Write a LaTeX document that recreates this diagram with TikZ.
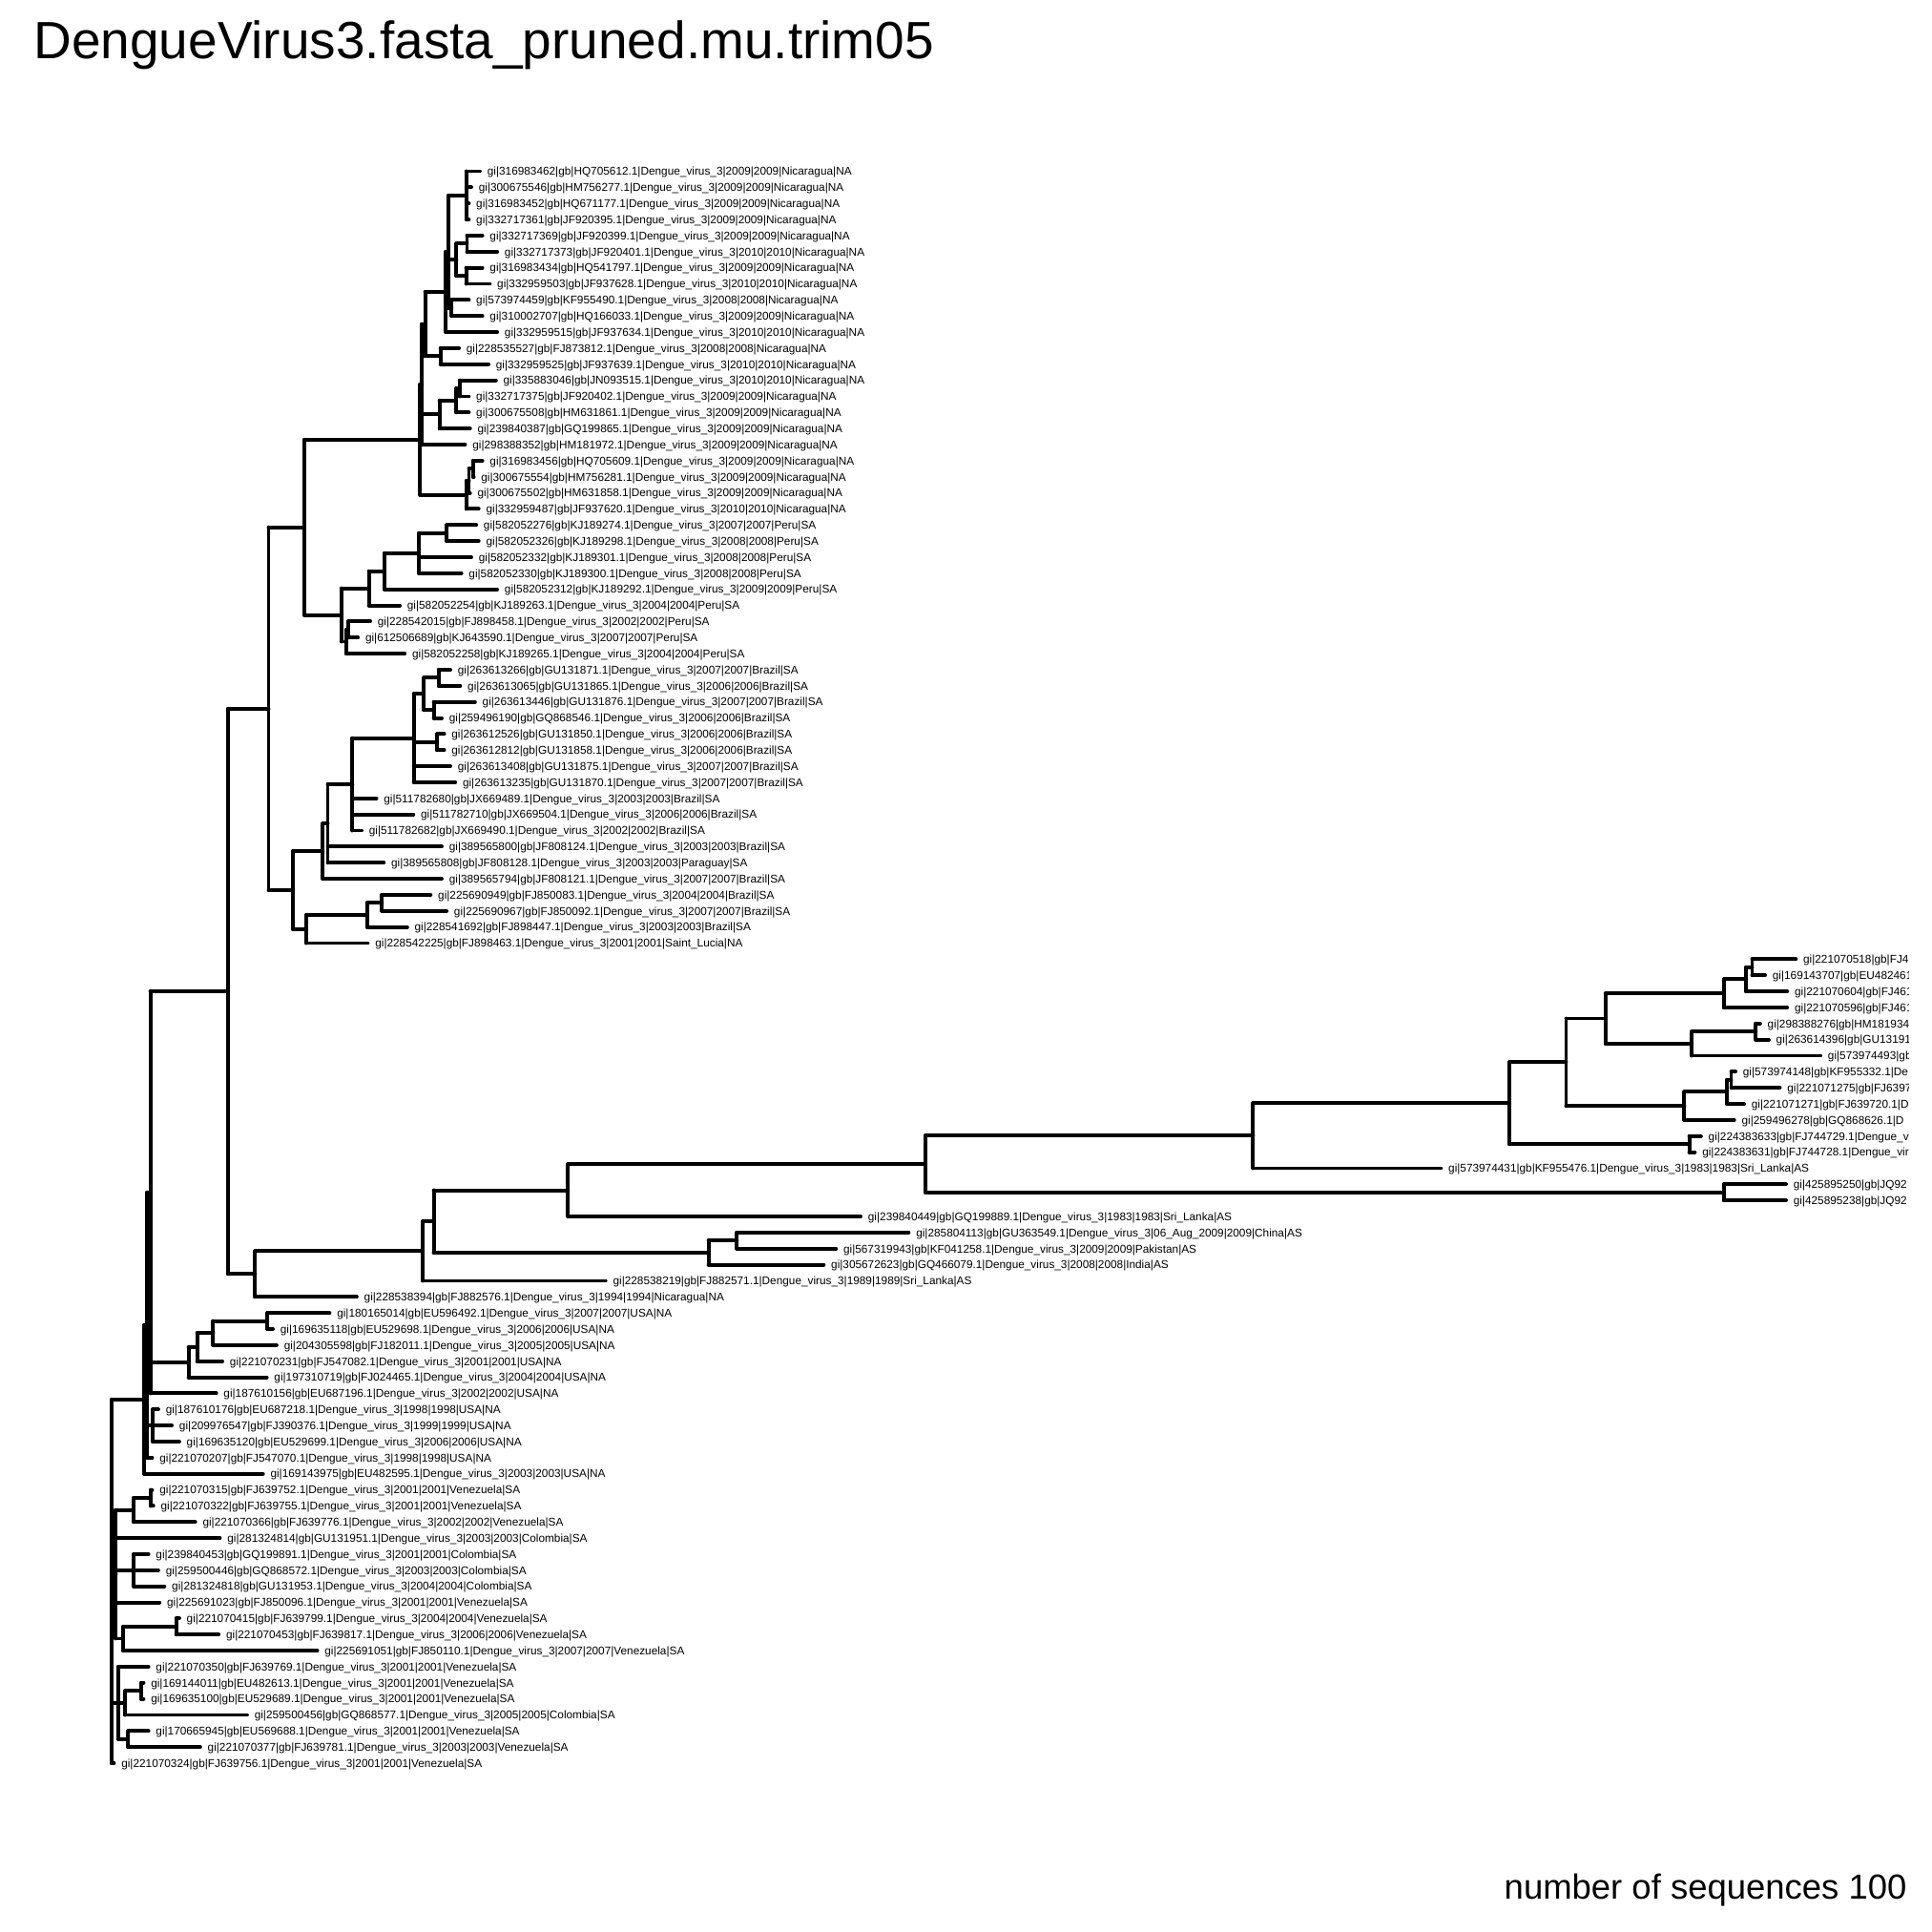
\documentclass[tikz,border=0pt]{standalone}
\usepackage{fontspec}
\setmainfont{Liberation Sans}
\usetikzlibrary{calc}

\tikzset{
  brline/.style={line width=1.1pt, line cap=round},
  leaflab/.style={anchor=base west, inner sep=0pt, xshift=2pt, yshift=-1.2pt, font=\fontsize{3.32}{3.9}\selectfont},
}
\newcommand\dvlab[4]{gi|#1|gb|#2|Dengue\_virus\_3|#3|#3|#4}
% clade: name, x, children from top to bottom
\newcommand\clade[3]{%
  \foreach \kid [count=\kidno] in {#3}{\ifnum\kidno=1 \xdef\firstkid{\kid}\fi\xdef\lastkid{\kid}}
  \coordinate (mid) at ($(\firstkid)!0.5!(\lastkid)$);
  \coordinate (#1) at (#2,0 |- mid);
  \draw[brline] (#1 |- \firstkid) -- (#1 |- \lastkid);
  \foreach \kid in {#3}{\draw[brline] (#1 |- \kid) -- (\kid);}
}

\begin{document}
\begin{tikzpicture}[x=0.012755cm, y=-0.012755cm]
    \useasboundingbox (0,0) rectangle (1568,1568);
    \node[anchor=base west, inner sep=0pt, font=\fontsize{15.45}{18}\selectfont] (title) at (27,48) {DengueVirus3.fasta\_pruned.mu.trim05};

    \begin{scope}
    \clip (0,0) rectangle (1549,1568);
    % tips
    \foreach \tx/\lab [count=\i from 0] in {
      389.5/\dvlab{316983462}{HQ705612.1}{2009}{Nicaragua|NA},
      382.5/\dvlab{300675546}{HM756277.1}{2009}{Nicaragua|NA},
      380.5/\dvlab{316983452}{HQ671177.1}{2009}{Nicaragua|NA},
      380.5/\dvlab{332717361}{JF920395.1}{2009}{Nicaragua|NA},
      391.5/\dvlab{332717369}{JF920399.1}{2009}{Nicaragua|NA},
      403.5/\dvlab{332717373}{JF920401.1}{2010}{Nicaragua|NA},
      391.5/\dvlab{316983434}{HQ541797.1}{2009}{Nicaragua|NA},
      397.5/\dvlab{332959503}{JF937628.1}{2010}{Nicaragua|NA},
      380.5/\dvlab{573974459}{KF955490.1}{2008}{Nicaragua|NA},
      391.5/\dvlab{310002707}{HQ166033.1}{2009}{Nicaragua|NA},
      403.5/\dvlab{332959515}{JF937634.1}{2010}{Nicaragua|NA},
      372.5/\dvlab{228535527}{FJ873812.1}{2008}{Nicaragua|NA},
      396.5/\dvlab{332959525}{JF937639.1}{2010}{Nicaragua|NA},
      402.5/\dvlab{335883046}{JN093515.1}{2010}{Nicaragua|NA},
      380.5/\dvlab{332717375}{JF920402.1}{2009}{Nicaragua|NA},
      380.5/\dvlab{300675508}{HM631861.1}{2009}{Nicaragua|NA},
      381.5/\dvlab{239840387}{GQ199865.1}{2009}{Nicaragua|NA},
      377.5/\dvlab{298388352}{HM181972.1}{2009}{Nicaragua|NA},
      391.5/\dvlab{316983456}{HQ705609.1}{2009}{Nicaragua|NA},
      384.5/\dvlab{300675554}{HM756281.1}{2009}{Nicaragua|NA},
      381.5/\dvlab{300675502}{HM631858.1}{2009}{Nicaragua|NA},
      388.5/\dvlab{332959487}{JF937620.1}{2010}{Nicaragua|NA},
      386.5/\dvlab{582052276}{KJ189274.1}{2007}{Peru|SA},
      388.5/\dvlab{582052326}{KJ189298.1}{2008}{Peru|SA},
      382.5/\dvlab{582052332}{KJ189301.1}{2008}{Peru|SA},
      374.5/\dvlab{582052330}{KJ189300.1}{2008}{Peru|SA},
      403.5/\dvlab{582052312}{KJ189292.1}{2009}{Peru|SA},
      324.5/\dvlab{582052254}{KJ189263.1}{2004}{Peru|SA},
      300.5/\dvlab{228542015}{FJ898458.1}{2002}{Peru|SA},
      290.5/\dvlab{612506689}{KJ643590.1}{2007}{Peru|SA},
      328.5/\dvlab{582052258}{KJ189265.1}{2004}{Peru|SA},
      365.5/\dvlab{263613266}{GU131871.1}{2007}{Brazil|SA},
      373.5/\dvlab{263613065}{GU131865.1}{2006}{Brazil|SA},
      385.5/\dvlab{263613446}{GU131876.1}{2007}{Brazil|SA},
      358.5/\dvlab{259496190}{GQ868546.1}{2006}{Brazil|SA},
      360.5/\dvlab{263612526}{GU131850.1}{2006}{Brazil|SA},
      360.5/\dvlab{263612812}{GU131858.1}{2006}{Brazil|SA},
      365.5/\dvlab{263613408}{GU131875.1}{2007}{Brazil|SA},
      369.5/\dvlab{263613235}{GU131870.1}{2007}{Brazil|SA},
      305.5/\dvlab{511782680}{JX669489.1}{2003}{Brazil|SA},
      335.5/\dvlab{511782710}{JX669504.1}{2006}{Brazil|SA},
      293.5/\dvlab{511782682}{JX669490.1}{2002}{Brazil|SA},
      358.5/\dvlab{389565800}{JF808124.1}{2003}{Brazil|SA},
      311.5/\dvlab{389565808}{JF808128.1}{2003}{Paraguay|SA},
      358.5/\dvlab{389565794}{JF808121.1}{2007}{Brazil|SA},
      349.5/\dvlab{225690949}{FJ850083.1}{2004}{Brazil|SA},
      362.5/\dvlab{225690967}{FJ850092.1}{2007}{Brazil|SA},
      330.5/\dvlab{228541692}{FJ898447.1}{2003}{Brazil|SA},
      298.5/\dvlab{228542225}{FJ898463.1}{2001}{Saint\_Lucia|NA},
      1457.5/gi|221070518|gb|FJ4,
      1432.5/gi|169143707|gb|EU482461,
      1450.5/gi|221070604|gb|FJ461,
      1450.5/gi|221070596|gb|FJ461,
      1428.5/gi|298388276|gb|HM181934.,
      1435.5/gi|263614396|gb|GU13191,
      1477.5/gi|573974493|gb|,
      1408.5/gi|573974148|gb|KF955332.1|De,
      1444.5/gi|221071275|gb|FJ6397,
      1415.5/gi|221071271|gb|FJ639720.1|D,
      1407.5/gi|259496278|gb|GQ868626.1|D,
      1380.5/gi|224383633|gb|FJ744729.1|Dengue\_vi,
      1375.5/gi|224383631|gb|FJ744728.1|Dengue\_vir,
      1169.5/\dvlab{573974431}{KF955476.1}{1983}{Sri\_Lanka|AS},
      1449.5/gi|425895250|gb|JQ92,
      1449.5/gi|425895238|gb|JQ92,
      698.5/\dvlab{239840449}{GQ199889.1}{1983}{Sri\_Lanka|AS},
      737.5/gi|285804113|gb|GU363549.1|Dengue\_virus\_3|06\_Aug\_2009|2009|China|AS,
      678.5/\dvlab{567319943}{KF041258.1}{2009}{Pakistan|AS},
      668.5/\dvlab{305672623}{GQ466079.1}{2008}{India|AS},
      491.5/\dvlab{228538219}{FJ882571.1}{1989}{Sri\_Lanka|AS},
      289.5/\dvlab{228538394}{FJ882576.1}{1994}{Nicaragua|NA},
      267.5/\dvlab{180165014}{EU596492.1}{2007}{USA|NA},
      221.5/\dvlab{169635118}{EU529698.1}{2006}{USA|NA},
      224.5/\dvlab{204305598}{FJ182011.1}{2005}{USA|NA},
      180.5/\dvlab{221070231}{FJ547082.1}{2001}{USA|NA},
      216.5/\dvlab{197310719}{FJ024465.1}{2004}{USA|NA},
      175.5/\dvlab{187610156}{EU687196.1}{2002}{USA|NA},
      128.5/\dvlab{187610176}{EU687218.1}{1998}{USA|NA},
      139.5/\dvlab{209976547}{FJ390376.1}{1999}{USA|NA},
      145.5/\dvlab{169635120}{EU529699.1}{2006}{USA|NA},
      123.5/\dvlab{221070207}{FJ547070.1}{1998}{USA|NA},
      213.5/\dvlab{169143975}{EU482595.1}{2003}{USA|NA},
      123.5/\dvlab{221070315}{FJ639752.1}{2001}{Venezuela|SA},
      124.5/\dvlab{221070322}{FJ639755.1}{2001}{Venezuela|SA},
      158.5/\dvlab{221070366}{FJ639776.1}{2002}{Venezuela|SA},
      178.5/\dvlab{281324814}{GU131951.1}{2003}{Colombia|SA},
      120.5/\dvlab{239840453}{GQ199891.1}{2001}{Colombia|SA},
      128.5/\dvlab{259500446}{GQ868572.1}{2003}{Colombia|SA},
      133.5/\dvlab{281324818}{GU131953.1}{2004}{Colombia|SA},
      129.5/\dvlab{225691023}{FJ850096.1}{2001}{Venezuela|SA},
      145.5/\dvlab{221070415}{FJ639799.1}{2004}{Venezuela|SA},
      177.5/\dvlab{221070453}{FJ639817.1}{2006}{Venezuela|SA},
      257.5/\dvlab{225691051}{FJ850110.1}{2007}{Venezuela|SA},
      120.5/\dvlab{221070350}{FJ639769.1}{2001}{Venezuela|SA},
      116.5/\dvlab{169144011}{EU482613.1}{2001}{Venezuela|SA},
      116.5/\dvlab{169635100}{EU529689.1}{2001}{Venezuela|SA},
      200.5/\dvlab{259500456}{GQ868577.1}{2005}{Colombia|SA},
      120.5/\dvlab{170665945}{EU569688.1}{2001}{Venezuela|SA},
      162.5/\dvlab{221070377}{FJ639781.1}{2003}{Venezuela|SA},
      92.5/\dvlab{221070324}{FJ639756.1}{2001}{Venezuela|SA}}{
      \coordinate (t\i) at (\tx,{139+13.0505*\i});
      \node[leaflab] (l\i) at (t\i) {\lab};
    }

    % Nicaragua
    \clade{c1}{378.5}{t0,t1,t2,t3}
    \clade{c2}{379}{t4,t5}
    \clade{c3}{378.3}{t6,t7}
    \clade{c4}{370.4}{c2,c3}
    \clade{c5}{366.5}{t8,t9}
    \clade{c6}{364}{c1,c4,c5}
    \clade{c7}{361.8}{c6,t10}
    \clade{c8}{357.5}{t11,t12}
    \clade{c9}{345}{c7,c8}
    \clade{c10}{373}{t13,t14}
    \clade{c11}{370.3}{c10,t15}
    \clade{c12}{356.7}{c11,t16}
    \clade{c13}{342.5}{c9,c12,t17}
    \clade{c14}{383.9}{t18,t19}
    \clade{c15}{380.6}{c14,t20}
    \clade{c16}{378.5}{c15,t21}
    \clade{nic}{341}{c13,c16}
    % Peru
    \clade{p1}{362.6}{t22,t23}
    \clade{p2}{340}{p1,t24,t25}
    \clade{p3}{312}{p2,t26}
    \clade{p4}{299.4}{p3,t27}
    \clade{p5}{282.6}{t28,t29}
    \clade{p6}{281}{p5,t30}
    \clade{peru}{277}{p4,p6}
    \clade{c17}{247}{nic,peru}
    % Brazil
    \clade{b1}{356}{t31,t32}
    \clade{b2}{352}{t33,t34}
    \clade{b3}{344}{b1,b2}
    \clade{b4}{354.8}{t35,t36}
    \clade{b5}{335.8}{b3,b4,t37,t38}
    \clade{b6}{286}{b5,t39,t40,t41}
    \clade{b7}{266}{b6,t42,t43}
    \clade{b8}{262}{b7,t44}
    \clade{b9}{310}{t45,t46}
    \clade{b10}{298}{b9,t47}
    \clade{b11}{248.6}{b10,t48}
    \clade{bra}{237.6}{b8,b11}
    \clade{c18}{218}{c17,bra}
    % Asia
    \clade{r1}{1422}{t49,t50}
    \clade{r2}{1417}{r1,t51}
    \clade{r3}{1399}{r2,t52}
    \clade{r4}{1425}{t53,t54}
    \clade{r5}{1373}{r4,t55}
    \clade{r6}{1303}{r3,r5}
    \clade{r7}{1405}{t56,t57}
    \clade{r8}{1401.5}{r7,t58}
    \clade{r9}{1367}{r8,t59}
    \clade{r10}{1271}{r6,r9}
    \clade{r11}{1371}{t60,t61}
    \clade{r12}{1225}{r10,r11}
    \clade{r13}{1017}{r12,t62}
    \clade{r14}{1399}{t63,t64}
    \clade{r15}{751}{r13,r14}
    \clade{r16}{461}{r15,t65}
    \clade{a1}{598}{t66,t67}
    \clade{a2}{575}{a1,t68}
    \clade{a3}{352}{r16,a2}
    \clade{a4}{343}{a3,t69}
    \clade{a5}{207}{a4,t70}
    \clade{c19}{185}{c18,a5}
    % USA
    \clade{u1}{217}{t71,t72}
    \clade{u2}{173}{u1,t73}
    \clade{u3}{160}{u2,t74}
    \clade{u4}{153}{u3,t75}
    \clade{g1}{122}{c19,u4,t76}
    \clade{v1}{124}{t77,t78,t79}
    \clade{g2}{119.5}{g1,v1,t80}
    \clade{g3}{117}{g2,t81}
    % Venezuela, Colombia
    \clade{x1}{122.4}{t82,t83}
    \clade{x2}{108.5}{x1,t84}
    \clade{x3}{108.5}{t86,t87,t88}
    \clade{x4}{143}{t90,t91}
    \clade{x5}{100}{x4,t92}
    \clade{x6}{114.5}{t94,t95}
    \clade{x7}{101.5}{x6,t96}
    \clade{x8}{104}{t97,t98}
    \clade{h1}{94}{x2,t85,x3,t89,x5}
    \clade{h2}{96}{t93,x7,x8}
    \clade{root}{90.5}{g3,h1,h2,t99}
    \end{scope}

    \node[anchor=base east, inner sep=0pt, font=\fontsize{10.25}{12}\selectfont] (count) at (1548,1541) {number of sequences 100};
\end{tikzpicture}
\end{document}
